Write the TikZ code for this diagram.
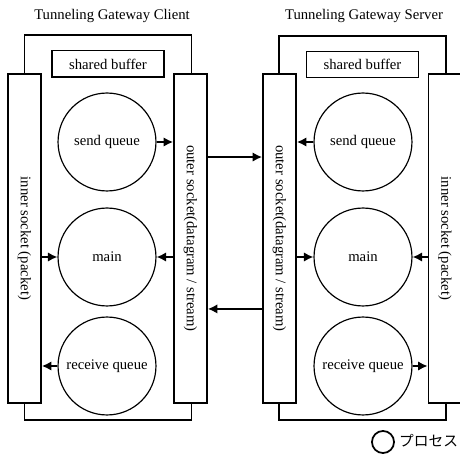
\documentclass[tikz,border=0pt]{standalone}
\usepackage{fontspec}
\setmainfont{Liberation Serif}
\newfontfamily\jpfont{Noto Sans CJK JP}
\usetikzlibrary{arrows.meta}

\begin{document}
\begin{tikzpicture}[x=0.68pt, y=-0.68pt, font=\fontsize{10}{12}\selectfont,
	frame/.style={line width=1pt},
	sockbox/.style={draw, line width=1pt, fill=white, minimum width=22.6pt, minimum height=223.7pt, inner sep=0pt},
	bufbox/.style={draw, line width=1pt, fill=white, minimum width=76pt, minimum height=18pt, inner sep=0pt},
	proc/.style={draw, circle, line width=0.8pt, minimum size=66.6pt, inner sep=0pt},
	flow/.style={line width=1.5pt, -{Latex[length=6.5pt,width=6.5pt]}}]
	\useasboundingbox (0,0) rectangle (460,454);
	% client side
	\node (ctitle) at (112,16) {Tunneling Gateway Client};
	\draw [frame] (24.5,35) rectangle (191.5,420);
	\node [bufbox] (cbuf) at (108,64) {shared buffer};
	\node [sockbox] (cin) at (24.5,238.5) {};
	\node [sockbox] (cout) at (190.5,238.5) {};
	\node [rotate=-90] (cinlabel) at (cin) {inner socket (packet)};
	\node [rotate=-90] (coutlabel) at (cout) {outer socket(datagram / stream)};
	\node [proc] (csend) at (107,142) {send queue};
	\node [proc] (cmain) at (107,257) {main};
	\node [proc] (crecv) at (107,366) {receive queue};
	\draw [flow] (csend) -- (cout.west |- csend);
	\draw [flow] (cin.east |- cmain) -- (cmain);
	\draw [flow] (cout.west |- cmain) -- (cmain);
	\draw [flow] (crecv) -- (cin.east |- crecv);
	% server side
	\node (stitle) at (364,16) {Tunneling Gateway Server};
	\draw [frame] (279,36) rectangle (446,420);
	\node [bufbox] (sbuf) at (362.5,64.5) {shared buffer};
	\node [sockbox] (sout) at (279.5,238.5) {};
	\node [sockbox] (sin) at (445,238.5) {};
	\node [rotate=-90] (soutlabel) at (sout) {outer socket(datagram / stream)};
	\node [rotate=-90] (sinlabel) at (sin) {inner socket (packet)};
	\node [proc] (ssend) at (363,142) {send queue};
	\node [proc] (smain) at (363,257) {main};
	\node [proc] (srecv) at (363,366) {receive queue};
	\draw [flow] (ssend) -- (sout.east |- ssend);
	\draw [flow] (sout.east |- smain) -- (smain);
	\draw [flow] (sin.west |- smain) -- (smain);
	\draw [flow] (srecv) -- (sin.west |- srecv);
	% between the outer sockets
	\draw [flow] ([yshift=55.4pt]cout.east) -- ([yshift=55.4pt]sout.west);
	\draw [flow] ([yshift=-47.9pt]sout.west) -- ([yshift=-47.9pt]cout.east);
	% legend
	\node [proc, minimum size=15pt, line width=1.2pt] (key) at (383,442) {};
	\node [anchor=west, inner sep=2pt, font=\fontsize{10}{12}\jpfont] (keytext) at (396,441) {プロセス};
\end{tikzpicture}
\end{document}
